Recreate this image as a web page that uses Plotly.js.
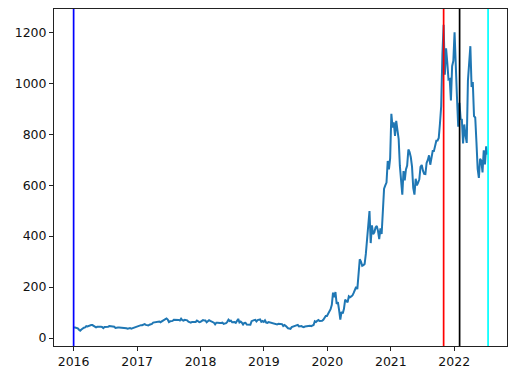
<!DOCTYPE html>
<html>
<head>
<meta charset="utf-8">
<script src="https://cdn.plot.ly/plotly-3.0.1.min.js"></script>
<style>html,body{margin:0;padding:0;background:#fff;}#chart{width:526px;height:372px;}</style>
</head>
<body>
<div id="chart"></div>
<script>
// Weekly closing prices (USD), each year's series starts on the given Monday, one value per week
const weekStart = {
  "2016": "2016-01-04", "2017": "2017-01-02", "2018": "2018-01-01",
  "2019": "2019-01-07", "2020": "2020-01-06", "2021": "2021-01-04", "2022": "2022-01-03"
};
const price2016 = [
  42.2, 40.9, 40.4, 38.2,
  32.4, 29.0, 33.2, 38.0, 40.2,
  41.4, 46.4, 45.4, 47.5,
  50.0, 50.8, 50.6, 48.0,
  42.4, 41.5, 44.0, 44.7, 43.6,
  43.7, 43.0, 38.6, 43.2,
  43.3, 44.1, 44.4, 47.0,
  46.0, 45.0, 45.0, 44.0, 39.5,
  38.9, 41.2, 41.0, 40.8,
  39.2, 39.3, 40.0, 39.9, 38.0,
  36.2, 37.0, 39.3, 36.3,
  38.4, 40.5, 42.7, 42.8
];
const price2017 = [
  46.0, 47.5, 49.0, 50.4, 50.2,
  53.8, 54.5, 51.4, 50.2,
  48.9, 52.3, 52.6, 55.6,
  60.4, 60.8, 61.0, 62.8,
  61.6, 64.8, 62.0, 65.0, 67.8,
  71.4, 74.2, 76.6, 72.3,
  62.6, 65.5, 65.7, 67.1, 71.2,
  71.5, 69.5, 69.7, 71.1,
  68.7, 75.9, 70.2, 68.2,
  71.3, 71.1, 69.1, 64.0, 61.2,
  60.5, 63.1, 63.1, 61.2,
  63.1, 68.7, 65.1, 62.3
];
const price2018 = [
  63.3, 67.2, 70.0, 68.5, 68.6,
  62.0, 67.0, 70.0, 67.0,
  65.4, 64.2, 60.2, 53.4,
  59.8, 60.0, 58.0, 58.8, 58.8,
  60.2, 55.2, 55.7, 58.3,
  63.5, 71.7, 66.7, 68.4,
  61.7, 63.6, 62.6, 59.4, 69.6,
  75.0, 61.0, 64.4, 60.2,
  52.6, 59.1, 59.8, 52.9,
  52.3, 51.6, 52.0, 66.0, 69.2,
  70.2, 70.9, 65.0, 70.0,
  71.5, 73.0, 63.8, 66.6, 63.5
];
const price2019 = [
  69.5, 60.5, 59.4, 62.5,
  61.1, 61.5, 59.1, 58.9,
  56.9, 55.1, 52.9, 55.9,
  55.1, 53.4, 54.6, 47.0, 51.1,
  47.8, 42.2, 38.1, 37.0,
  35.8, 42.7, 44.2, 44.7,
  46.8, 49.0, 51.6, 45.6, 46.8,
  47.0, 44.0, 42.3, 45.1,
  45.9, 49.4, 48.0, 48.4, 46.3,
  49.4, 51.2, 65.6, 62.6,
  67.4, 70.4, 66.6, 65.9,
  67.2, 71.7, 81.1, 86.1, 86.0
];
const price2020 = [
  95.6, 102.1, 113.0, 130.1,
  178.0, 160.0, 180.3, 133.6,
  140.7, 109.3, 72.2, 102.9, 96.0,
  114.6, 150.8, 145.0, 140.3,
  163.9, 159.8, 163.4, 167.0,
  177.1, 187.1, 200.2, 191.9, 241.7,
  308.9, 300.2, 283.4, 286.2,
  290.5, 330.0, 409.9, 442.7, 498.3,
  372.7, 442.2, 407.3, 415.1,
  434.0, 439.7, 420.6, 388.0,
  430.0, 408.5, 489.6, 585.8, 599.0,
  610.0, 695.0, 661.8, 705.7
];
const price2021 = [
  880.0, 826.2, 846.6, 793.5,
  852.2, 816.1, 781.3, 675.5,
  597.9, 563.0, 654.9, 618.7, 661.8,
  677.0, 739.8, 729.4, 709.4,
  672.4, 589.7, 563.0, 625.2, 599.1,
  609.9, 623.3, 671.9, 678.9,
  657.0, 644.2, 643.4, 687.2,
  699.1, 717.2, 680.3, 711.9, 733.6,
  733.6, 759.5, 774.4, 775.2,
  785.5, 843.0, 909.7, 1114.0,
  1229.9, 1033.4, 1137.1, 1081.9, 1015.0,
  1017.0, 932.6, 1067.0, 1088.0
];
const price2022 = [
  1199.8, 1031.6, 943.9, 829.1, 923.3,
  860.0, 857.0, 764.0, 838.3,
  795.4, 766.0, 1010.6, 1084.6,
  1145.5, 985.0, 1005.1, 870.8,
  865.7, 769.6, 663.9, 628.2, 703.6,
  696.7, 650.3, 737.1, 681.8,
  752.3, 720.2
];
const markerDates = ["2016-01-01", "2021-11-01", "2022-02-01", "2022-07-15"];
const markerColors = ["blue", "red", "black", "cyan"];
const yTicks = [0, 200, 400, 600, 800, 1000, 1200];

const yearly = {"2016": price2016, "2017": price2017, "2018": price2018, "2019": price2019,
                "2020": price2020, "2021": price2021, "2022": price2022};
const xs = [], ys = [];
Object.keys(yearly).forEach(function (yr) {
  const start = new Date(weekStart[yr] + "T00:00:00Z");
  yearly[yr].forEach(function (v, i) {
    const d = new Date(start.getTime() + i * 7 * 86400000);
    xs.push(d.toISOString().slice(0, 10));
    ys.push(v);
  });
});

const trace = {
  x: xs, y: ys, type: "scatter", mode: "lines",
  line: {color: "#1f77b4", width: 2}, hoverinfo: "skip"
};

const shapes = markerDates.map(function (d, i) {
  return {type: "line", xref: "x", yref: "paper", x0: d, x1: d, y0: 0, y1: 1,
          line: {color: markerColors[i], width: 1.7}, layer: "above"};
});

const axisCommon = {
  showgrid: false, zeroline: false, showline: true, mirror: true,
  linecolor: "#222", linewidth: 1, ticks: "outside", ticklen: 4, tickwidth: 1,
  tickcolor: "#222", tickfont: {family: "DejaVu Sans", size: 12.5, color: "#111"}
};

const layout = {
  width: 526, height: 372,
  margin: {l: 54, r: 19, t: 9, b: 26, pad: 0},
  paper_bgcolor: "#fff", plot_bgcolor: "#fff",
  showlegend: false,
  xaxis: Object.assign({}, axisCommon, {
    type: "date", range: ["2015-09-10", "2022-11-01"],
    tickvals: ["2016-01-01", "2017-01-01", "2018-01-01", "2019-01-01", "2020-01-01", "2021-01-01", "2022-01-01"],
    ticktext: ["2016", "2017", "2018", "2019", "2020", "2021", "2022"]
  }),
  yaxis: Object.assign({}, axisCommon, {
    range: [-31.4, 1291.5], tickvals: yTicks, ticktext: yTicks.map(String)
  }),
  shapes: shapes
};

Plotly.newPlot("chart", [trace], layout, {displayModeBar: false, staticPlot: true});
</script>
</body>
</html>
